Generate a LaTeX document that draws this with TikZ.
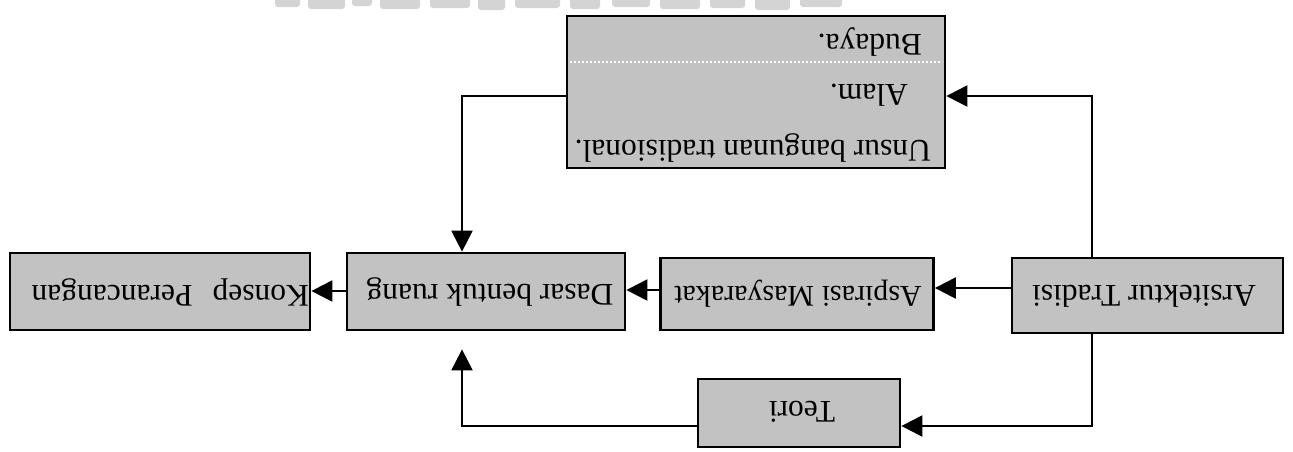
\documentclass[tikz,border=0pt]{standalone}
\usepackage{fontspec}
\setmainfont{Liberation Serif}
\usetikzlibrary{arrows.meta}
\definecolor{boxgray}{HTML}{C2C2C2}
\definecolor{fadegray}{HTML}{D4D4D4}
\newcommand\flip[1]{\rotatebox{180}{#1}}
\tikzset{
  blk/.style={draw=black, line width=2.8pt, fill=boxgray, inner sep=0pt},
  lbl/.style={inner sep=0pt, font=\fontsize{31.5}{38}\selectfont},
  conn/.style={line width=2.3pt, -{Triangle[length=21pt,width=21pt]}},
  smudge/.style={fill=fadegray, rounded corners=3pt},
}
\begin{document}
\begin{tikzpicture}[x=1pt,y=-1pt]
  \useasboundingbox (0,0) rectangle (1293,451);

  % faded marks along the top edge
  \foreach \xa/\xb/\h in {275/300/7,308/345/9,352/372/6,380/420/9,430/470/8,
                          478/505/10,515/560/8,570/600/9,612/650/7,660/700/9,
                          710/745/8,755/790/10,800/842/7}
    \fill[smudge] (\xa,-4) rectangle (\xb,\h);

  % boxes
  \node[blk, minimum width=378pt, minimum height=152pt] (unsur) at (756,92) {};
  \node[blk, minimum width=271pt, minimum height=75pt] (arsi) at (1147.5,295.5) {};
  \node[blk, minimum width=273pt, minimum height=72pt] (aspi) at (797,294) {};
  \node[blk, minimum width=278pt, minimum height=77pt] (dasar) at (486,291.5) {};
  \node[blk, minimum width=300pt, minimum height=77pt] (konsep) at (160,291.5) {};
  \node[blk, minimum width=202pt, minimum height=68pt] (teori) at (799,413) {};

  % a white scan line across the upper box
  \draw[white, line width=2pt, dotted] (570,62) -- (942,62);

  % labels
  \node[lbl, anchor=east] (t1) at (931,148) {\flip{Unsur bangunan tradisional.}};
  \node[lbl, anchor=east] (t2) at (908,95) {\flip{Alam.}};
  \node[lbl, anchor=east] (t3) at (922,42) {\flip{Budaya.}};
  \node[lbl] (tarsi) at (1144,296) {\flip{Arsitektur Tradisi}};
  \node[lbl, font=\fontsize{30}{36}\selectfont] (taspi) at (798,294) {\flip{Aspirasi Masyarakat}};
  \node[lbl] (tdasar) at (490,292) {\flip{Dasar bentuk ruang}};
  \node[lbl, anchor=east] (tkonsep) at (309,292) {\flip{Konsep\hspace{20pt}Perancangan}};
  \node[lbl] (tteori) at (802,412) {\flip{Teori}};

  % connectors
  \draw[conn] ([yshift=7.5pt]arsi.west) -- ([yshift=6pt]aspi.east);
  \draw[conn] ([yshift=4pt]aspi.west) -- ([yshift=1.5pt]dasar.east);
  \draw[conn] ([yshift=0.5pt]dasar.west) -- ([yshift=0.5pt]konsep.east);
  \draw[conn] ([xshift=-55.5pt]arsi.north) |- ([yshift=-4pt]unsur.east);
  \draw[conn] ([yshift=-4pt]unsur.west) -| ([xshift=-24pt]dasar.north);
  \draw[conn] ([xshift=-55.5pt]arsi.south) |- ([yshift=-13pt]teori.east);
  \draw[conn] ([yshift=-13pt]teori.west) -| ([xshift=-24pt,yshift=-18pt]dasar.south);
\end{tikzpicture}
\end{document}
